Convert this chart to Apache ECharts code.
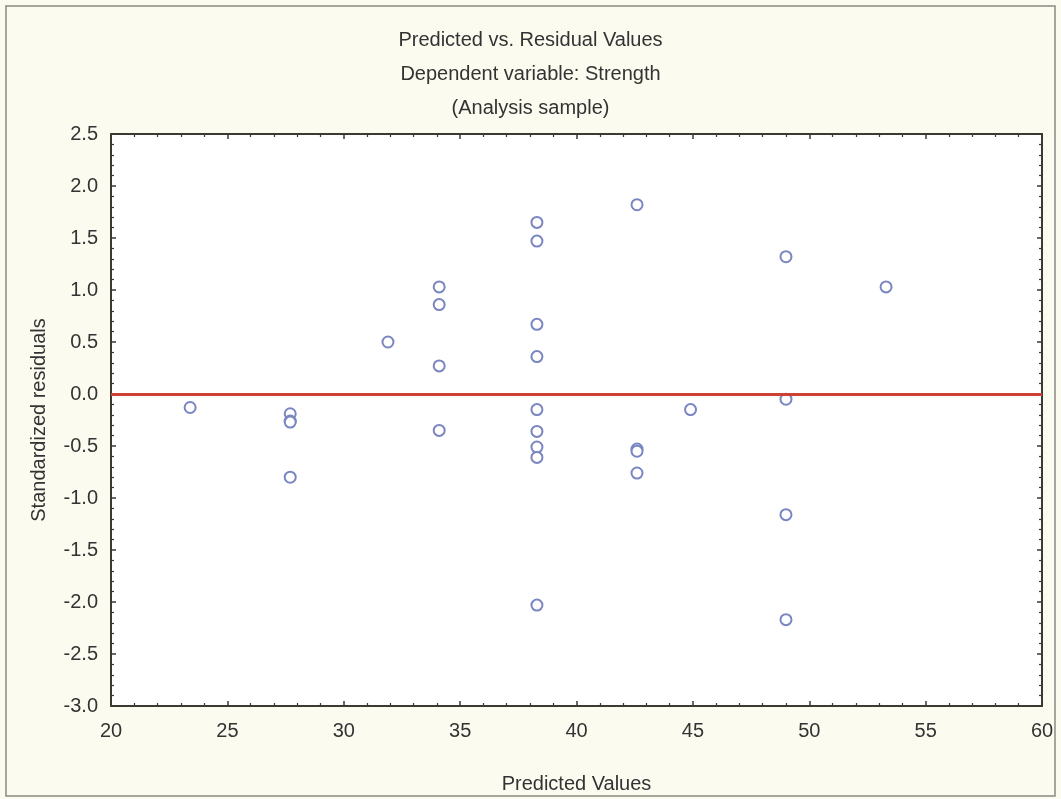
<!DOCTYPE html>
<html>
<head>
<meta charset="utf-8">
<script src="https://cdn.jsdelivr.net/npm/echarts@6/dist/echarts.min.js"></script>
<style>
html,body{margin:0;padding:0;background:#fbfbf0;}
#main{width:1061px;height:799px;}
</style>
</head>
<body>
<div id="main"></div>
<script>
// Data
const predicted = [23.4, 27.7, 27.7, 27.7, 27.7, 31.9, 34.1, 34.1, 34.1, 34.1,
  38.3, 38.3, 38.3, 38.3, 38.3, 38.3, 38.3, 38.3, 38.3,
  42.6, 42.6, 42.6, 42.6, 44.9, 49.0, 49.0, 49.0, 49.0, 53.3];
const residuals = [-0.13, -0.19, -0.26, -0.27, -0.80, 0.50, 1.03, 0.86, 0.27, -0.35,
  1.65, 1.47, 0.67, 0.36, -0.15, -0.36, -0.51, -0.61, -2.03,
  1.82, -0.53, -0.55, -0.76, -0.15, 1.32, -0.05, -1.16, -2.17, 1.03];
const titleLines = ['Predicted vs. Residual Values', 'Dependent variable: Strength', '(Analysis sample)'];
const xRange = [20, 60];
const yRange = [-3.0, 2.5];
const zeroLevel = 0;

const points = predicted.map((x, i) => [x, residuals[i]]);
const FONT = "'Liberation Sans', Arial, sans-serif";
const axisColor = '#3a3a32';
const textColor = '#333333';

function baseAxis(extra) {
  return Object.assign({
    type: 'value',
    splitLine: { show: false },
    axisLine: { show: true, onZero: false, lineStyle: { color: axisColor, width: 2 } },
    axisTick: { show: true, inside: true, length: 5, lineStyle: { color: axisColor, width: 1.5 } },
    minorTick: { show: true, splitNumber: 5, length: 3, lineStyle: { color: axisColor, width: 1.2 } },
  }, extra);
}

const chart = echarts.init(document.getElementById('main'), null, { renderer: 'canvas' });
chart.setOption({
  backgroundColor: '#fbfbf0',
  animation: false,
  title: titleLines.map((t, i) => ({
    text: t,
    left: 'center',
    top: 25 + i * 34,
    textStyle: { fontFamily: FONT, fontSize: 20, fontWeight: 'normal', color: textColor }
  })),
  graphic: [{
    type: 'rect',
    shape: { x: 6, y: 6, width: 1049, height: 790 },
    style: { fill: 'none', stroke: '#8a8a84', lineWidth: 1.5 },
    silent: true
  }],
  grid: {
    left: 111, top: 134, width: 931, height: 575,
    show: true, backgroundColor: '#ffffff', borderWidth: 0
  },
  xAxis: [
    baseAxis({
      min: xRange[0], max: xRange[1], interval: 5, position: 'bottom',
      axisLabel: { fontFamily: FONT, fontSize: 20, color: textColor, margin: 15 },
      name: 'Predicted Values', nameLocation: 'middle', nameGap: 68,
      nameTextStyle: { fontFamily: FONT, fontSize: 20, color: textColor }
    }),
    baseAxis({
      min: xRange[0], max: xRange[1], interval: 5, position: 'top',
      axisLabel: { show: false }
    })
  ],
  yAxis: [
    baseAxis({
      min: yRange[0], max: yRange[1], interval: 0.5, position: 'left',
      axisLabel: { fontFamily: FONT, fontSize: 20, color: textColor, margin: 13,
        formatter: v => v.toFixed(1) },
      name: 'Standardized residuals', nameLocation: 'middle', nameGap: 62,
      nameTextStyle: { fontFamily: FONT, fontSize: 20, color: textColor }
    }),
    baseAxis({
      min: yRange[0], max: yRange[1], interval: 0.5, position: 'right',
      axisLabel: { show: false }
    })
  ],
  series: [{
    type: 'scatter',
    xAxisIndex: 0, yAxisIndex: 0,
    data: points,
    symbol: 'emptyCircle',
    symbolSize: 11,
    itemStyle: { color: '#7a86c2', borderWidth: 1.2, opacity: 1 },
    markLine: {
      silent: true,
      symbol: 'none',
      label: { show: false },
      lineStyle: { color: '#cc4133', width: 3, type: 'solid' },
      data: [{ yAxis: zeroLevel }]
    },
    z: 3
  }]
});
</script>
</body>
</html>
